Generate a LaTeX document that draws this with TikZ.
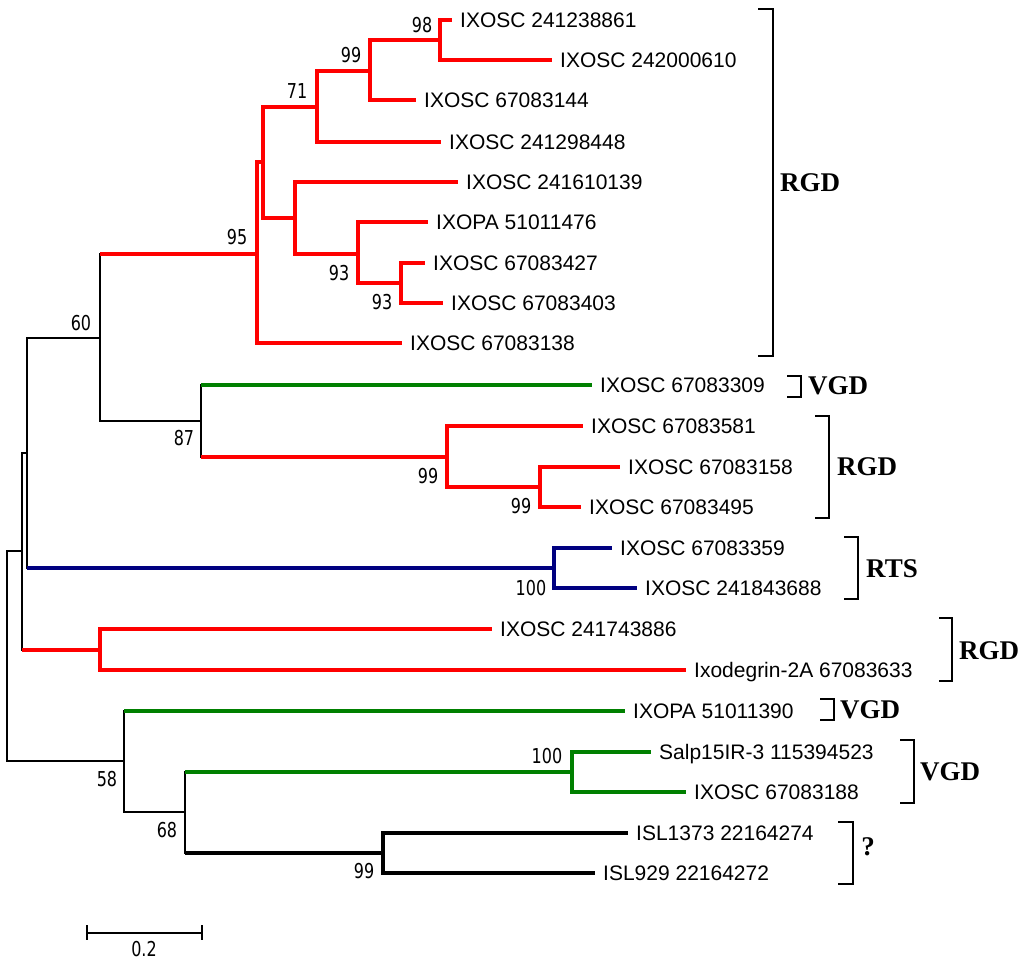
\documentclass[tikz,border=0pt]{standalone}
\usepackage{fontspec}
\setmainfont{Liberation Sans}
\newfontfamily\bsfont{DejaVu Sans}
\newfontfamily\cladefont{Liberation Serif}
\definecolor{grn}{RGB}{0,128,0}
\definecolor{navyb}{RGB}{0,0,128}
\tikzset{
  blk/.style={draw=black, line width=1.6pt},
  redb/.style={draw=red, line width=4.2pt},
  grnb/.style={draw=grn, line width=4.2pt},
  blub/.style={draw=navyb, line width=4.2pt},
  blkb/.style={draw=black, line width=4.2pt},
  leaf/.style={anchor=base west, inner sep=0pt, font=\fontsize{21}{21}\selectfont, xshift=8pt, yshift=-7.5pt},
  boot/.style={inner sep=0pt, font=\bsfont\fontsize{20.5}{20.5}\selectfont, xscale=0.78},
  clade/.style={inner sep=0pt, font=\cladefont\bfseries\fontsize{27}{27}\selectfont},
  brk/.style={draw=black, line width=1.6pt},
}
\newcommand{\tedge}[3]{\draw[#1] (#2 |- #3) -- (#3);}
\newcommand{\tvert}[4]{\draw[#1, line cap=rect] (#2 |- #3) -- (#2 |- #4);}
\begin{document}
\begin{tikzpicture}[x=1pt,y=-1pt]
\useasboundingbox (0,0) rectangle (1024,962);
% leaf tips
\coordinate (l1) at (452,20);
\coordinate (l2) at (552,60);
\coordinate (l3) at (416,100);
\coordinate (l4) at (441,142);
\coordinate (l5) at (458,182);
\coordinate (l6) at (428,222);
\coordinate (l7) at (425,263);
\coordinate (l8) at (443,303);
\coordinate (l9) at (402,343);
\coordinate (l10) at (592,385);
\coordinate (l11) at (583,426);
\coordinate (l12) at (620,467);
\coordinate (l13) at (581,507);
\coordinate (l14) at (612,548);
\coordinate (l15) at (637,588);
\coordinate (l16) at (492,629);
\coordinate (l17) at (686,670);
\coordinate (l18) at (625,711);
\coordinate (l19) at (651,752);
\coordinate (l20) at (686,792);
\coordinate (l21) at (628,833);
\coordinate (l22) at (595,873);
% internal nodes
\coordinate (nA) at (440,40);
\coordinate (nB) at (370,71);
\coordinate (nC) at (317,107);
\coordinate (nD) at (263,162);
\coordinate (nF) at (295,218);
\coordinate (nG) at (358,254);
\coordinate (nH) at (401,283);
\coordinate (nE) at (257,254);
\coordinate (n60) at (100,338);
\coordinate (n87) at (201,421);
\coordinate (nI) at (447,457);
\coordinate (nJ) at (540,487);
\coordinate (nK) at (554,568);
\coordinate (nL) at (27,453);
\coordinate (nM) at (22,551);
\coordinate (nN) at (100,650);
\coordinate (nR) at (7,655);
\coordinate (nO) at (124,761);
\coordinate (nP) at (185,812);
\coordinate (nQ) at (572,772);
\coordinate (nS) at (383,853);
% verticals
\tvert{redb}{nA}{l1}{l2}
\tvert{redb}{nB}{nA}{l3}
\tvert{redb}{nC}{nB}{l4}
\tvert{redb}{nD}{nC}{nF}
\tvert{redb}{nF}{l5}{nG}
\tvert{redb}{nG}{l6}{nH}
\tvert{redb}{nH}{l7}{l8}
\tvert{redb}{nE}{nD}{l9}
\tvert{blk}{n60}{nE}{n87}
\tvert{blk}{n87}{l10}{nI}
\tvert{redb}{nI}{l11}{nJ}
\tvert{redb}{nJ}{l12}{l13}
\tvert{blub}{nK}{l14}{l15}
\tvert{blk}{nL}{n60}{nK}
\tvert{blk}{nM}{nL}{nN}
\tvert{redb}{nN}{l16}{l17}
\tvert{blk}{nR}{nM}{nO}
\tvert{blk}{nO}{l18}{nP}
\tvert{blk}{nP}{nQ}{nS}
\tvert{grnb}{nQ}{l19}{l20}
\tvert{blkb}{nS}{l21}{l22}
% horizontal edges
\tedge{redb}{nA}{l1}
\tedge{redb}{nA}{l2}
\tedge{redb}{nB}{nA}
\tedge{redb}{nB}{l3}
\tedge{redb}{nC}{nB}
\tedge{redb}{nC}{l4}
\tedge{redb}{nD}{nC}
\tedge{redb}{nD}{nF}
\tedge{redb}{nF}{l5}
\tedge{redb}{nF}{nG}
\tedge{redb}{nG}{l6}
\tedge{redb}{nG}{nH}
\tedge{redb}{nH}{l7}
\tedge{redb}{nH}{l8}
\tedge{redb}{nE}{nD}
\tedge{redb}{nE}{l9}
\tedge{redb}{n60}{nE}
\tedge{blk}{n60}{n87}
\tedge{grnb}{n87}{l10}
\tedge{redb}{n87}{nI}
\tedge{redb}{nI}{l11}
\tedge{redb}{nI}{nJ}
\tedge{redb}{nJ}{l12}
\tedge{redb}{nJ}{l13}
\tedge{blk}{nL}{n60}
\tedge{blub}{nL}{nK}
\tedge{blub}{nK}{l14}
\tedge{blub}{nK}{l15}
\tedge{blk}{nM}{nL}
\tedge{redb}{nM}{nN}
\tedge{redb}{nN}{l16}
\tedge{redb}{nN}{l17}
\tedge{blk}{nR}{nM}
\tedge{blk}{nR}{nO}
\tedge{grnb}{nO}{l18}
\tedge{blk}{nO}{nP}
\tedge{grnb}{nP}{nQ}
\tedge{grnb}{nQ}{l19}
\tedge{grnb}{nQ}{l20}
\tedge{blkb}{nP}{nS}
\tedge{blkb}{nS}{l21}
\tedge{blkb}{nS}{l22}
% leaf labels
\node[leaf] (t1) at (l1) {IXOSC 241238861};
\node[leaf] (t2) at (l2) {IXOSC 242000610};
\node[leaf] (t3) at (l3) {IXOSC 67083144};
\node[leaf] (t4) at (l4) {IXOSC 241298448};
\node[leaf] (t5) at (l5) {IXOSC 241610139};
\node[leaf] (t6) at (l6) {IXOPA 51011476};
\node[leaf] (t7) at (l7) {IXOSC 67083427};
\node[leaf] (t8) at (l8) {IXOSC 67083403};
\node[leaf] (t9) at (l9) {IXOSC 67083138};
\node[leaf] (t10) at (l10) {IXOSC 67083309};
\node[leaf] (t11) at (l11) {IXOSC 67083581};
\node[leaf] (t12) at (l12) {IXOSC 67083158};
\node[leaf] (t13) at (l13) {IXOSC 67083495};
\node[leaf] (t14) at (l14) {IXOSC 67083359};
\node[leaf] (t15) at (l15) {IXOSC 241843688};
\node[leaf] (t16) at (l16) {IXOSC 241743886};
\node[leaf] (t17) at (l17) {Ixodegrin-2A 67083633};
\node[leaf] (t18) at (l18) {IXOPA 51011390};
\node[leaf] (t19) at (l19) {Salp15IR-3 115394523};
\node[leaf] (t20) at (l20) {IXOSC 67083188};
\node[leaf] (t21) at (l21) {ISL1373 22164274};
\node[leaf] (t22) at (l22) {ISL929 22164272};
% bootstrap values
\node[boot] (bA) at (422,25) {98};
\node[boot] (bB) at (351,55) {99};
\node[boot] (bC) at (297,91) {71};
\node[boot] (bE) at (237,237) {95};
\node[boot] (bG) at (339,273) {93};
\node[boot] (bH) at (382,302) {93};
\node[boot] (b60) at (81,323) {60};
\node[boot] (b87) at (184,438) {87};
\node[boot] (bI) at (428,476) {99};
\node[boot] (bJ) at (521,506) {99};
\node[boot] (bK) at (531,588) {100};
\node[boot] (bO) at (107,779) {58};
\node[boot] (bP) at (167,830) {68};
\node[boot] (bQ) at (547,756) {100};
\node[boot] (bS) at (364,871) {99};
% clade brackets
\draw[brk] (758,9) -- (773,9) -- (773,356) -- (758,356);
\draw[brk] (787,376) -- (801,376) -- (801,397) -- (787,397);
\draw[brk] (815,416) -- (829,416) -- (829,518) -- (815,518);
\draw[brk] (844,537) -- (858,537) -- (858,599) -- (844,599);
\draw[brk] (939,618) -- (952,618) -- (952,681) -- (939,681);
\draw[brk] (820,699) -- (834,699) -- (834,720) -- (820,720);
\draw[brk] (900,740) -- (914,740) -- (914,803) -- (900,803);
\draw[brk] (838,822) -- (853,822) -- (853,884) -- (838,884);
\node[clade] (c1) at (810,183) {RGD};
\node[clade] (c2) at (838,386) {VGD};
\node[clade] (c3) at (867,467) {RGD};
\node[clade] (c4) at (892,569) {RTS};
\node[clade] (c5) at (989,651) {RGD};
\node[clade] (c6) at (870,710) {VGD};
\node[clade] (c7) at (950,772) {VGD};
\node[clade] (c8) at (868,847) {?};
% scale bar
\coordinate (sL) at (87,933);
\coordinate (sR) at (202,933);
\draw[blk] (sL) -- (sR);
\draw[blk] ([yshift=8pt]sL) -- ([yshift=-7pt]sL);
\draw[blk] ([yshift=8pt]sR) -- ([yshift=-7pt]sR);
\node[boot] (sb) at (144,949) {0.2};
\end{tikzpicture}
\end{document}
